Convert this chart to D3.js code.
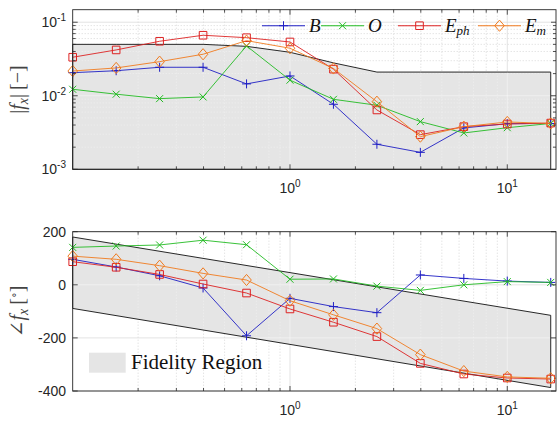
<!DOCTYPE html>
<html><head><meta charset="utf-8">
<script src="https://cdn.jsdelivr.net/npm/d3@7"></script>
<style>body{margin:0;background:#fff}svg{display:block}</style>
</head><body>
<script>
// ---------------- data ----------------
const freqs = [0.1, 0.1585, 0.2512, 0.3981, 0.631, 1, 1.585, 2.512, 3.981, 6.31, 10, 15.85];
const magB   = [0.0206, 0.0219, 0.0244, 0.0244, 0.0145, 0.0186, 0.00766, 0.00219, 0.0017, 0.00365, 0.00417, 0.0042];
const magO   = [0.01225, 0.0105, 0.00914, 0.00964, 0.0476, 0.0163, 0.00895, 0.00743, 0.00445, 0.00312, 0.00368, 0.0042];
const magEph = [0.0334, 0.042, 0.0551, 0.0665, 0.0616, 0.0539, 0.023, 0.00641, 0.00296, 0.0038, 0.00413, 0.00425];
const magEm  = [0.0217, 0.0239, 0.0291, 0.0367, 0.0562, 0.0443, 0.0235, 0.0083, 0.00278, 0.0038, 0.0044, 0.0042];
const phB    = [96, 67, 34, -12, -192, -51, -82, -105, 37, 24, 14, 9];
const phO    = [141, 146, 150, 168, 151, 21, 22, -5, -21, 0, 12, 9];
const phEph  = [87, 66, 39, 3, -31, -91, -141, -195, -296, -336, -351, -355];
const phEm   = [108, 96, 72, 43, 18, -60, -113, -165, -263, -325, -347, -352];
const fidMag = [0.05, 0.05, 0.05, 0.05, 0.047, 0.039, 0.028, 0.021, 0.021, 0.021, 0.021, 0.021];
const fidPhFreq  = [0.1, 15.85];
const fidPhUpper = [180, -115];
const fidPhLower = [-89, -387];
const seriesNames = ["B", "O", "E_ph", "E_m"];
const xTicks = [1, 10];
const magTicks = [1e-3, 1e-2, 1e-1];
const phTicks = [-400, -200, 0, 200];
const legendFid = "Fidelity Region";

const colors = ["#1f1fc4", "#22bb22", "#dd2222", "#f07a1e"];
const markers = ["plus", "cross", "square", "diamond"];

// ---------------- layout ----------------
const W = 557, H = 423;
const L = 72.7, R = 556;
const top1 = 9.7, bot1 = 169.3;
const top2 = 231.7, bot2 = 391;
const svg = d3.select("body").append("svg").attr("width", W).attr("height", H);
const defs = svg.append("defs");

const x = d3.scaleLog().domain([0.1, 16.76]).range([L, R]);
const yM = d3.scaleLog().domain([1e-3, 0.148]).range([bot1, top1]);
const yP = d3.scaleLinear().domain([-400, 200]).range([bot2, top2]);

const axisCol = "#262626";
const font = "'Liberation Sans', Arial, sans-serif";
const serif = "'Liberation Serif', 'DejaVu Serif', serif";

function minorLogs(lo, hi) {
  const out = [];
  for (let e = Math.floor(Math.log10(lo)); e <= Math.ceil(Math.log10(hi)); e++) {
    for (let m = 2; m <= 9; m++) { const v = m * Math.pow(10, e); if (v > lo && v < hi) out.push(v); }
  }
  return out;
}
const xMinor = minorLogs(0.1, 16.76);

function drawGrid(g, yScale, top, bot, yMajor, yMinor, minCol, majCol, op) {
  g.selectAll(null).data(xMinor).enter().append("line")
    .attr("x1", d => x(d)).attr("x2", d => x(d)).attr("y1", top).attr("y2", bot)
    .attr("stroke", minCol).attr("stroke-opacity", op).attr("stroke-width", 0.8).attr("stroke-dasharray", "1,2");
  g.selectAll(null).data(yMinor).enter().append("line")
    .attr("y1", d => yScale(d)).attr("y2", d => yScale(d)).attr("x1", L).attr("x2", R)
    .attr("stroke", minCol).attr("stroke-opacity", op).attr("stroke-width", 0.8).attr("stroke-dasharray", "1,2");
  g.selectAll(null).data(xTicks).enter().append("line")
    .attr("x1", d => x(d)).attr("x2", d => x(d)).attr("y1", top).attr("y2", bot)
    .attr("stroke", majCol).attr("stroke-opacity", op).attr("stroke-width", 0.8);
  g.selectAll(null).data(yMajor).enter().append("line")
    .attr("y1", d => yScale(d)).attr("y2", d => yScale(d)).attr("x1", L).attr("x2", R)
    .attr("stroke", majCol).attr("stroke-opacity", op).attr("stroke-width", 0.8);
}

function drawRegion(g, id, pts, yScale, top, bot, yMajor, yMinor) {
  const d = "M" + pts.join("L") + "Z";
  g.append("path").attr("d", d).attr("fill", "#e5e5e5");
  defs.append("clipPath").attr("id", id).append("path").attr("d", d);
  const gc = g.append("g").attr("clip-path", `url(#${id})`);
  drawGrid(gc, yScale, top, bot, yMajor, yMinor, "#ffffff", "#ffffff", 0.55);
  g.append("path").attr("d", d).attr("fill", "none").attr("stroke", "#111").attr("stroke-width", 0.9);
}

function drawAxes(g, yScale, top, bot, yMajor, yMinor, yFmt) {
  g.append("rect").attr("x", L).attr("y", top).attr("width", R - L).attr("height", bot - top)
    .attr("fill", "none").attr("stroke", axisCol).attr("stroke-width", 0.9);
  const tk = (x1, y1, x2, y2) => g.append("line").attr("x1", x1).attr("y1", y1).attr("x2", x2).attr("y2", y2)
    .attr("stroke", axisCol).attr("stroke-width", 0.8);
  xTicks.forEach(d => { tk(x(d), bot, x(d), bot - 5); tk(x(d), top, x(d), top + 5); });
  xMinor.forEach(d => { tk(x(d), bot, x(d), bot - 3); tk(x(d), top, x(d), top + 3); });
  yMajor.forEach(d => { tk(L, yScale(d), L + 5, yScale(d)); tk(R, yScale(d), R - 5, yScale(d)); });
  yMinor.forEach(d => { tk(L, yScale(d), L + 3, yScale(d)); tk(R, yScale(d), R - 3, yScale(d)); });
  xTicks.forEach(d => {
    const t = g.append("text").attr("x", x(d)).attr("y", bot + 24).attr("text-anchor", "middle")
      .attr("font-family", font).attr("font-size", 14).attr("fill", axisCol);
    t.append("tspan").text("10");
    t.append("tspan").attr("dy", -6).attr("font-size", 10).text(Math.round(Math.log10(d)));
  });
  yMajor.forEach(d => yFmt(g, d, yScale(d)));
}

function marker(g, type, cx, cy, col) {
  const s = g.append("path").attr("fill", "none").attr("stroke", col).attr("stroke-width", 1);
  if (type === "plus") s.attr("d", `M${cx-4.5},${cy}H${cx+4.5}M${cx},${cy-4.5}V${cy+4.5}`);
  else if (type === "cross") s.attr("d", `M${cx-3.5},${cy-3.5}L${cx+3.5},${cy+3.5}M${cx-3.5},${cy+3.5}L${cx+3.5},${cy-3.5}`);
  else if (type === "square") s.attr("d", `M${cx-3.8},${cy-3.8}h7.6v7.6h-7.6Z`);
  else s.attr("d", `M${cx},${cy-5.6}L${cx+4.8},${cy}L${cx},${cy+5.6}L${cx-4.8},${cy}Z`);
}

function drawSeries(g, yScale, arrs) {
  arrs.forEach((vals, k) => {
    const line = d3.line().x((d, i) => x(freqs[i])).y(d => yScale(d));
    g.append("path").attr("d", line(vals)).attr("fill", "none").attr("stroke", colors[k]).attr("stroke-width", 0.9);
    vals.forEach((v, i) => marker(g, markers[k], x(freqs[i]), yScale(v), colors[k]));
  });
}

// ---------------- top plot ----------------
const g1 = svg.append("g");
const magMinor = minorLogs(1e-3, 0.148);
drawGrid(g1, yM, top1, bot1, magTicks, magMinor, "#cfcfcf", "#dcdcdc", 1);
const magPoly = freqs.map((f, i) => [x(f), yM(fidMag[i])])
  .concat([[x(freqs[freqs.length - 1]), yM(1e-3)], [x(freqs[0]), yM(1e-3)]]);
drawRegion(g1, "clipMag", magPoly, yM, top1, bot1, magTicks, magMinor);

const logFmt = (g, d, yy) => {
  const t = g.append("text").attr("x", 66).attr("y", yy + 5).attr("text-anchor", "end")
    .attr("font-family", font).attr("font-size", 14).attr("fill", axisCol);
  t.append("tspan").text("10");
  t.append("tspan").attr("dy", -6).attr("font-size", 10).text(Math.round(Math.log10(d)));
};
drawSeries(g1, yM, [magB, magO, magEph, magEm]);
drawAxes(g1, yM, top1, bot1, magTicks, magMinor, logFmt);

// legend (top)
const gl = svg.append("g");
const legX = [262, 321, 398, 478];
const legY = 25.7;
seriesNames.forEach((n, k) => {
  const x0 = legX[k];
  gl.append("line").attr("x1", x0).attr("x2", x0 + 43).attr("y1", legY).attr("y2", legY)
    .style("stroke", colors[k]).attr("stroke-width", 1.1);
  marker(gl, markers[k], x0 + 21.5, legY, colors[k]);
  const t = gl.append("text").attr("x", x0 + 47).attr("y", legY + 6)
    .attr("font-family", serif).attr("font-size", 19).attr("font-style", "italic").attr("fill", "#111");
  const parts = n.split("_");
  t.append("tspan").text(parts[0]);
  if (parts[1]) t.append("tspan").attr("dy", 3).attr("font-size", 13).text(parts[1]);
});

// y label top
const yl1 = svg.append("text").attr("transform", `translate(24,${(top1 + bot1) / 2}) rotate(-90)`)
  .attr("text-anchor", "middle").attr("font-family", serif).attr("font-size", 20).attr("fill", "#444");
yl1.append("tspan").text("|");
yl1.append("tspan").attr("font-style", "italic").text("f");
yl1.append("tspan").attr("font-style", "italic").attr("font-size", 14).attr("dy", 4).text("x");
yl1.append("tspan").attr("dy", -4).text("|\u2009[\u2212]");

// ---------------- bottom plot ----------------
const g2 = svg.append("g");
drawGrid(g2, yP, top2, bot2, phTicks, [], "#cfcfcf", "#dcdcdc", 1);
const phPoly = [[x(fidPhFreq[0]), yP(fidPhUpper[0])], [x(fidPhFreq[1]), yP(fidPhUpper[1])],
                [x(fidPhFreq[1]), yP(fidPhLower[1])], [x(fidPhFreq[0]), yP(fidPhLower[0])]];
drawRegion(g2, "clipPh", phPoly, yP, top2, bot2, phTicks, []);
drawSeries(g2, yP, [phB, phO, phEph, phEm]);
const linFmt = (g, d, yy) => {
  g.append("text").attr("x", 66).attr("y", yy + 5).attr("text-anchor", "end")
    .attr("font-family", font).attr("font-size", 14).attr("fill", axisCol).text(d);
};
drawAxes(g2, yP, top2, bot2, phTicks, [], linFmt);

// legend (bottom)
g2.append("rect").attr("x", 89).attr("y", 352.7).attr("width", 36.7).attr("height", 20).attr("fill", "#e5e5e5");
g2.append("text").attr("x", 131).attr("y", 369).attr("font-family", serif).attr("font-size", 21)
  .attr("fill", "#111").text(legendFid);

// y label bottom
const yl2 = svg.append("text").attr("transform", `translate(24,${(top2 + bot2) / 2}) rotate(-90)`)
  .attr("text-anchor", "middle").attr("font-family", serif).attr("font-size", 20).attr("fill", "#444");
yl2.append("tspan").text("\u2220");
yl2.append("tspan").attr("font-style", "italic").text("f");
yl2.append("tspan").attr("font-style", "italic").attr("font-size", 14).attr("dy", 4).text("x");
yl2.append("tspan").attr("dy", -4).text("\u2009[");
yl2.append("tspan").attr("dy", -6).attr("font-size", 12).text("\u2218");
yl2.append("tspan").attr("dy", 6).text("]");
</script>
</body></html>
